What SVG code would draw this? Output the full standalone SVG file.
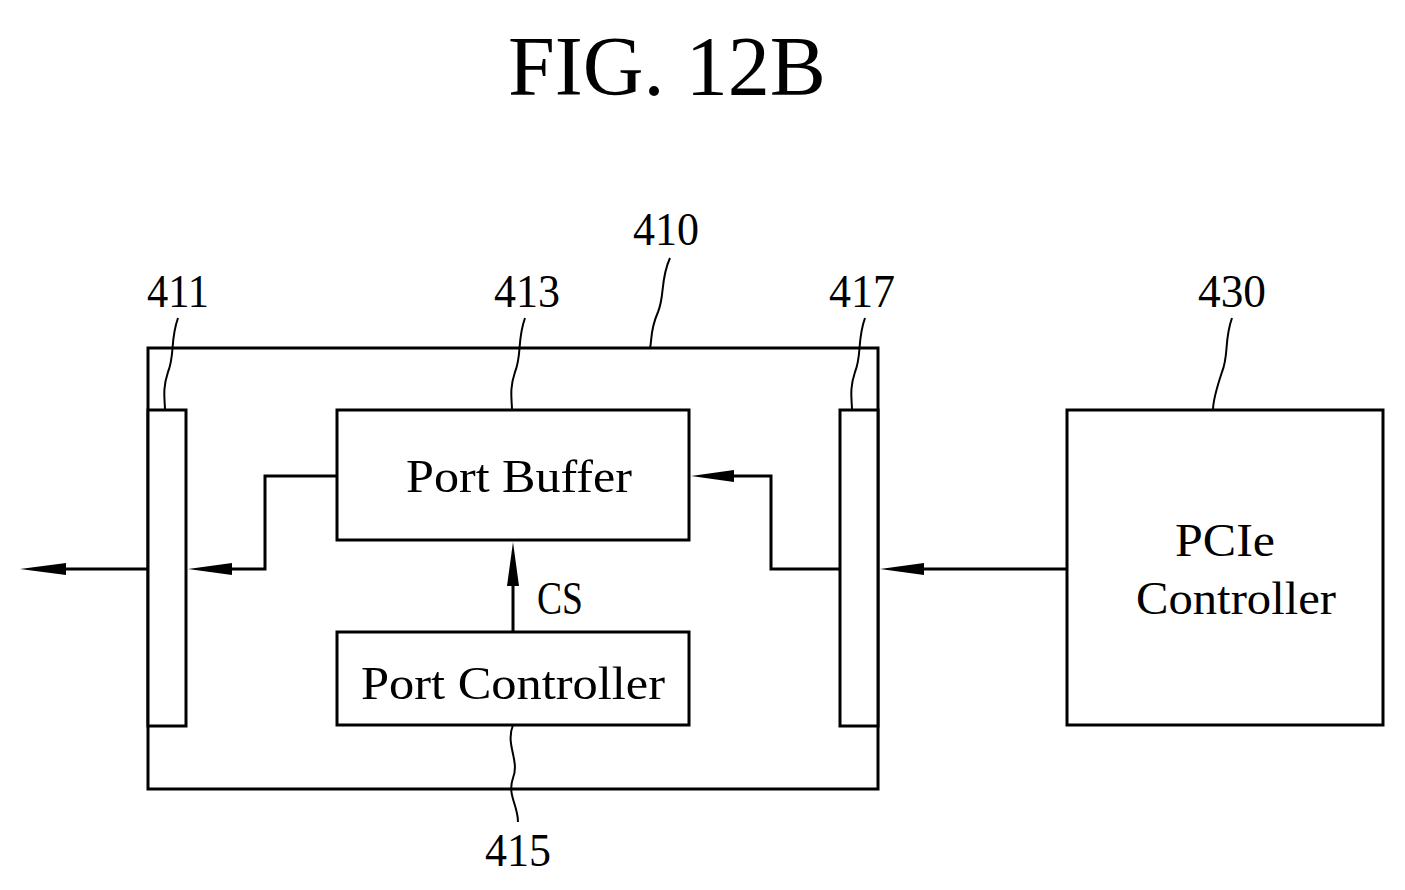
<svg xmlns="http://www.w3.org/2000/svg" width="1405" height="890" viewBox="0 0 1405 890">
<defs>
<style>
.b{fill:#fff;stroke:#000;stroke-width:3}
.l{fill:none;stroke:#000;stroke-width:3}
.a{fill:#000;stroke:none}
.t{font-family:"Liberation Serif",serif;font-size:46px;fill:#000;text-anchor:middle}
.w{fill:none;stroke:#000;stroke-width:2}
</style>
</defs>
<rect width="1405" height="890" fill="#fff"/>
<text x="667" y="95" class="t" style="font-size:84px" textLength="318" lengthAdjust="spacingAndGlyphs">FIG. 12B</text>
<g id="n410"><rect class="b" x="148" y="348" width="730" height="441"/><text class="t" x="666" y="245" textLength="66" lengthAdjust="spacingAndGlyphs">410</text><path class="w" d="M670,258 C660,280 665,295 658,312 C650,330 652,340 650,348"/></g>
<g id="n411"><rect class="b" x="148" y="410" width="38" height="316"/><text class="t" x="178" y="307" textLength="62" lengthAdjust="spacingAndGlyphs">411</text><path class="w" d="M178,318 C170,340 175,355 168,372 C162,390 165,400 165,410"/></g>
<g id="n417"><rect class="b" x="840" y="410" width="38" height="316"/><text class="t" x="862" y="307" textLength="66" lengthAdjust="spacingAndGlyphs">417</text><path class="w" d="M865,318 C857,340 862,355 855,372 C849,390 852,400 852,410"/></g>
<g id="n413"><rect class="b" x="337" y="410" width="352" height="130"/><text class="t" x="519" y="492" textLength="226" lengthAdjust="spacingAndGlyphs">Port Buffer</text><text class="t" x="527" y="307" textLength="66" lengthAdjust="spacingAndGlyphs">413</text><path class="w" d="M525,318 C517,340 522,355 515,372 C509,390 512,400 512,410"/></g>
<g id="n415"><rect class="b" x="337" y="632" width="352" height="93"/><text class="t" x="513" y="699" textLength="304" lengthAdjust="spacingAndGlyphs">Port Controller</text><text class="t" x="518" y="866" textLength="66" lengthAdjust="spacingAndGlyphs">415</text><path class="w" d="M513,725 C505,745 520,760 513,778 C507,795 518,805 518,822"/></g>
<g id="n430"><rect class="b" x="1067" y="410" width="316" height="315"/><text class="t" x="1225" y="556" textLength="100" lengthAdjust="spacingAndGlyphs">PCIe</text><text class="t" x="1236" y="614" textLength="200" lengthAdjust="spacingAndGlyphs">Controller</text><text class="t" x="1232" y="307" textLength="68" lengthAdjust="spacingAndGlyphs">430</text><path class="w" d="M1232,318 C1224,340 1229,355 1222,372 C1216,390 1213,400 1213,410"/></g>
<g id="connectors">
<path class="l" d="M337,476 H265 V569 H210"/><path class="a" d="M188,569 L232,563 L232,575 Z"/>
<path class="l" d="M148,569 H40"/><path class="a" d="M20,569 L66,563 L66,575 Z"/>
<path class="l" d="M1067,569 H900"/><path class="a" d="M880,569 L924,563 L924,575 Z"/>
<path class="l" d="M840,569 H771 V476 H710"/><path class="a" d="M691,476 L734,470 L734,482 Z"/>
<path class="l" d="M513,632 V560"/><path class="a" d="M513,542 L507,586 L519,586 Z"/>
<text class="t" x="560" y="614" textLength="46" lengthAdjust="spacingAndGlyphs">CS</text>
</g>
</svg>
